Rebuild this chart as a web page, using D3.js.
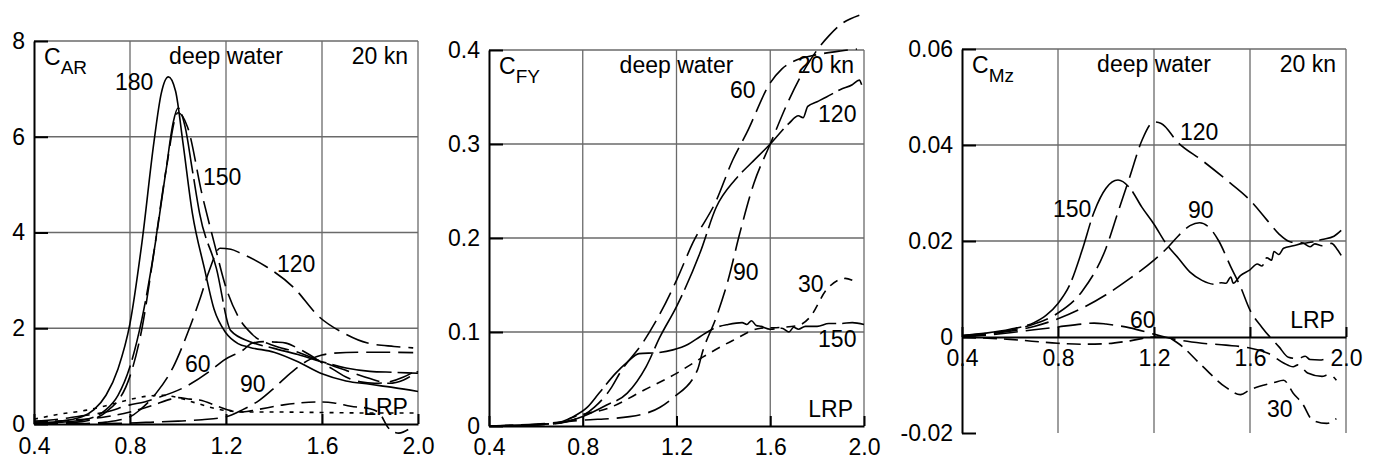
<!DOCTYPE html>
<html>
<meta charset="utf-8">
<style>
body {
  margin: 0;
  background: #fff;
  font-family: "Liberation Sans", Arial, Helvetica, sans-serif;
}
svg text {
  font-family: "Liberation Sans", Arial, Helvetica, sans-serif;
  font-size: 23px;
  fill: #000;
}
.grid line {
  stroke: #6a6a6a;
  stroke-width: 1.3;
}
.axis path, .axis line {
  stroke: #000;
  stroke-width: 2;
}
.curve {
  fill: none;
  stroke: #000;
  stroke-width: 1.6;
}
</style>
<body>
<script src="https://cdn.jsdelivr.net/npm/d3@7"></script>
<script>
// ---- data ----
var xTicks = [0.4, 0.8, 1.2, 1.6, 2.0];

// C_AR
var carTicks = [0, 2, 4, 6, 8];
var car180 = [[0.4,0.02],[0.5,0.05],[0.6,0.15],[0.65,0.3],[0.7,0.6],[0.75,1.15],[0.8,2.1],[0.85,3.8],[0.9,5.9],[0.93,6.9],[0.96,7.25],[0.99,6.95],[1.02,5.9],[1.06,4.4],[1.11,3.25],[1.15,2.4],[1.2,1.9],[1.25,1.68],[1.3,1.6],[1.4,1.5],[1.5,1.3],[1.6,1.05],[1.7,0.9],[1.8,0.83],[1.9,0.76],[2.0,0.68]];
var car180b = [[0.4,0.01],[0.6,0.08],[0.7,0.3],[0.75,0.6],[0.8,1.2],[0.85,2.2],[0.9,3.6],[0.95,5.3],[0.98,6.3],[1.0,6.6],[1.03,6.2],[1.06,5.3],[1.09,4.4],[1.16,3.25],[1.22,1.95],[1.3,1.72],[1.4,1.58],[1.5,1.45],[1.6,1.3],[1.7,1.17],[1.8,1.1],[1.9,1.08],[2.0,1.06]];
var car150 = [[0.4,0],[0.6,0.05],[0.7,0.25],[0.8,1.0],[0.85,2.0],[0.9,3.6],[0.95,5.3],[1.0,6.5],[1.04,6.2],[1.1,4.8],[1.15,3.8],[1.2,2.85],[1.25,2.25],[1.31,1.87],[1.41,1.62],[1.5,1.5],[1.6,1.3],[1.7,1.12],[1.8,0.95],[1.88,0.85],[1.94,0.92],[2.0,1.1]];
var car120 = [[0.4,0],[0.6,0.01],[0.7,0.04],[0.8,0.15],[0.84,0.29],[0.91,0.65],[0.98,1.19],[1.04,1.9],[1.09,2.59],[1.13,3.2],[1.175,3.67],[1.22,3.65],[1.26,3.57],[1.37,3.28],[1.48,2.86],[1.59,2.23],[1.69,1.9],[1.79,1.69],[1.9,1.62],[1.98,1.59]];
var car90 = [[0.4,0],[0.6,0.005],[0.8,0.02],[0.9,0.04],[1.0,0.06],[1.1,0.09],[1.2,0.15],[1.27,0.3],[1.34,0.5],[1.4,0.75],[1.45,0.98],[1.5,1.19],[1.55,1.35],[1.6,1.44],[1.65,1.48],[1.75,1.5],[1.85,1.5],[1.98,1.49]];
var car60 = [[0.4,0.06],[0.5,0.1],[0.6,0.17],[0.7,0.25],[0.8,0.4],[0.86,0.46],[0.91,0.54],[1.02,0.75],[1.15,1.17],[1.19,1.33],[1.27,1.54],[1.31,1.69],[1.36,1.72],[1.41,1.71],[1.45,1.69],[1.5,1.58],[1.55,1.44],[1.6,1.28],[1.65,1.13],[1.7,0.98],[1.76,0.88],[1.82,0.85],[1.88,0.88],[1.94,0.98],[1.98,1.08]];
var car30 = [[0.4,0.04],[0.55,0.08],[0.7,0.15],[0.8,0.25],[0.9,0.4],[0.97,0.52],[1.0,0.55],[1.05,0.52],[1.09,0.5],[1.17,0.36],[1.22,0.28],[1.27,0.25],[1.33,0.3],[1.44,0.4],[1.58,0.46],[1.65,0.44],[1.72,0.37],[1.8,0.32],[1.84,0.22],[1.88,-0.1],[1.92,-0.19],[1.97,-0.08]];
var carLRP = [[0.4,0.1],[0.5,0.2],[0.62,0.29],[0.7,0.38],[0.79,0.5],[0.87,0.58],[0.94,0.6],[1.0,0.55],[1.08,0.43],[1.15,0.33],[1.2,0.28],[1.3,0.25],[1.4,0.25],[1.6,0.24],[1.8,0.23],[2.0,0.23]];

// C_FY
var cfyTicks = [0, 0.1, 0.2, 0.3, 0.4];
var cfy150 = [[0.4,0],[0.6,0.0015],[0.7,0.004],[0.76,0.01],[0.82,0.02],[0.87,0.035],[0.94,0.056],[0.99,0.068],[1.04,0.077],[1.12,0.078],[1.185,0.081],[1.25,0.087],[1.3,0.095],[1.36,0.104],[1.42,0.108],[1.48,0.11],[1.5,0.108],[1.52,0.112],[1.54,0.107],[1.56,0.106],[1.6,0.103],[1.65,0.104],[1.68,0.1],[1.7,0.105],[1.72,0.103],[1.75,0.106],[1.8,0.106],[1.85,0.109],[1.9,0.109],[1.95,0.11],[2.0,0.108]];
var cfy30 = [[0.4,0],[0.7,0.003],[0.75,0.0085],[0.92,0.02],[1.06,0.038],[1.2,0.056],[1.31,0.073],[1.44,0.091],[1.56,0.104],[1.65,0.105],[1.72,0.107],[1.77,0.116],[1.84,0.145],[1.92,0.157],[1.95,0.155]];
var cfy60 = [[0.4,0],[0.6,0.001],[0.75,0.006],[0.85,0.02],[0.92,0.04],[0.96,0.057],[1.06,0.09],[1.12,0.115],[1.2,0.155],[1.27,0.195],[1.37,0.24],[1.44,0.283],[1.5,0.312],[1.6,0.365],[1.65,0.38],[1.7,0.388],[1.8,0.395],[1.9,0.399],[1.97,0.401]];
var cfy120 = [[0.4,0],[0.7,0.003],[0.8,0.01],[0.9,0.022],[0.99,0.035],[1.07,0.063],[1.13,0.095],[1.2,0.127],[1.3,0.184],[1.37,0.233],[1.45,0.262],[1.52,0.28],[1.6,0.30],[1.68,0.322],[1.72,0.33],[1.74,0.328],[1.76,0.34],[1.8,0.345],[1.84,0.35],[1.9,0.358],[1.95,0.363],[1.98,0.368],[1.99,0.363]];
var cfy90 = [[0.4,0],[0.6,0.002],[0.79,0.006],[1.0,0.01],[1.13,0.02],[1.185,0.03],[1.29,0.06],[1.31,0.078],[1.37,0.116],[1.42,0.155],[1.47,0.205],[1.53,0.258],[1.6,0.30],[1.68,0.347],[1.76,0.385],[1.8,0.4],[1.85,0.415],[1.9,0.427],[1.98,0.437]];

// C_Mz
var cmzTicks = [-0.02, 0, 0.02, 0.04, 0.06];
var cmz150 = [[0.4,0.0003],[0.5,0.0008],[0.6,0.0016],[0.7,0.003],[0.75,0.0045],[0.8,0.007],[0.85,0.011],[0.9,0.018],[0.95,0.026],[1.0,0.031],[1.05,0.0327],[1.1,0.031],[1.15,0.027],[1.2,0.0235],[1.25,0.0195],[1.3,0.0165],[1.35,0.0135],[1.4,0.0118],[1.45,0.011],[1.48,0.0113],[1.5,0.0112],[1.52,0.0125],[1.53,0.0112],[1.56,0.0128],[1.6,0.014],[1.63,0.0152],[1.65,0.0148],[1.67,0.0165],[1.69,0.016],[1.7,0.0178],[1.72,0.0172],[1.74,0.0185],[1.78,0.019],[1.82,0.0195],[1.86,0.0198],[1.9,0.0203],[1.95,0.021],[1.98,0.0222]];
var cmz120 = [[0.4,0.0003],[0.5,0.0007],[0.6,0.0014],[0.7,0.0027],[0.8,0.005],[0.9,0.0095],[1.0,0.0185],[1.05,0.026],[1.1,0.0335],[1.15,0.041],[1.2,0.0448],[1.23,0.0445],[1.3,0.0405],[1.4,0.0368],[1.5,0.0328],[1.6,0.0285],[1.67,0.0244],[1.72,0.0215],[1.77,0.0198],[1.82,0.0196],[1.85,0.0188],[1.87,0.0194],[1.9,0.019],[1.94,0.0195],[1.96,0.0185],[1.98,0.017]];
var cmz90 = [[0.4,0.0002],[0.5,0.0006],[0.6,0.0012],[0.7,0.0022],[0.8,0.0038],[0.9,0.006],[1.0,0.0088],[1.1,0.0122],[1.2,0.016],[1.26,0.0188],[1.3,0.021],[1.35,0.0232],[1.39,0.0238],[1.43,0.0228],[1.47,0.02],[1.52,0.0146],[1.56,0.0105],[1.6,0.0056],[1.65,0.002],[1.72,-0.002],[1.76,-0.0042],[1.8,-0.0045],[1.83,-0.004],[1.85,-0.0047],[1.89,-0.0048],[1.93,-0.0042]];
var cmz60 = [[0.4,0.0001],[0.5,0.0004],[0.6,0.0009],[0.7,0.0015],[0.8,0.0021],[0.9,0.0027],[0.95,0.0029],[1.0,0.0027],[1.1,0.0019],[1.2,0.0006],[1.3,-0.0006],[1.4,-0.0013],[1.5,-0.0017],[1.6,-0.0023],[1.68,-0.0035],[1.74,-0.0054],[1.78,-0.0062],[1.8,-0.0058],[1.84,-0.0075],[1.9,-0.0082],[1.93,-0.0078],[1.96,-0.009]];
var cmz30 = [[0.4,0],[0.6,-0.0005],[0.8,-0.0013],[0.9,-0.0015],[1.0,-0.0014],[1.1,-0.0008],[1.2,0],[1.25,0],[1.3,-0.0013],[1.4,-0.006],[1.5,-0.0105],[1.56,-0.012],[1.6,-0.011],[1.7,-0.0095],[1.74,-0.009],[1.78,-0.0117],[1.82,-0.014],[1.86,-0.0173],[1.92,-0.018],[1.96,-0.017]];

// ---- drawing ----
var dash = {solid: null, vlong: "60,6", long: "24,8", med: "14,7", short: "9,7", dot: "4,6"};

var panels = [
  {left: 34, right: 418, top: 41, bottom: 424, yDomain: [0, 8], yTicks: carTicks,
   yFmt: d3.format("d"), sub: "AR", xLabelY: 454,
   series: [
     {d: car180, s: "solid"}, {d: car180b, s: "vlong"}, {d: car150, s: "long"},
     {d: car120, s: "long"}, {d: car90, s: "long"}, {d: car60, s: "long"},
     {d: car30, s: "med"}, {d: carLRP, s: "dot"}],
   notes: [["180", 0.7375, 6.98, "start"], ["150", 1.104, 4.99, "start"], ["120", 1.4125, 3.17, "start"],
           ["60", 1.029, 1.086, "start"], ["90", 1.258, 0.67, "start"], ["LRP", 1.958, 0.19, "end"]]},
  {left: 489, right: 864, top: 50, bottom: 426, yDomain: [0, 0.4], yTicks: cfyTicks,
   yFmt: function(d) { return d === 0 ? "0" : d3.format(".1f")(d); }, sub: "FY", xLabelY: 455,
   series: [
     {d: cfy150, s: "vlong"}, {d: cfy30, s: "short"}, {d: cfy60, s: "long"},
     {d: cfy120, s: "vlong"}, {d: cfy90, s: "long"}],
   notes: [["60", 1.428, 0.349, "start"], ["120", 1.804, 0.323, "start"], ["90", 1.441, 0.155, "start"],
           ["30", 1.718, 0.1426, "start"], ["150", 1.804, 0.084, "start"], ["LRP", 1.953, 0.0096, "end"]]},
  {left: 962, right: 1346, top: 49, bottom: 433, yDomain: [-0.02, 0.06], yTicks: cmzTicks,
   yFmt: function(d) { return d === 0 ? "0" : d3.format(".2f")(d).replace("\u2212", "-"); }, sub: "Mz", xLabelY: 366,
   series: [
     {d: cmz150, s: "vlong"}, {d: cmz120, s: "long"}, {d: cmz90, s: "long"},
     {d: cmz60, s: "long"}, {d: cmz30, s: "med"}],
   notes: [["120", 1.308, 0.041, "start"], ["150", 0.779, 0.025, "start"], ["90", 1.342, 0.0248, "start"],
           ["60", 1.1, 0.0019, "start"], ["LRP", 1.954, 0.0019, "end"], ["30", 1.671, -0.0167, "start"]]}
];

var svg = d3.select("body").append("svg")
    .attr("width", 1376)
    .attr("height", 460);

panels.forEach(function(p) {
  var x = d3.scaleLinear().domain([0.4, 2.0]).range([p.left, p.right]);
  var y = d3.scaleLinear().domain(p.yDomain).range([p.bottom, p.top]);
  var g = svg.append("g");

  // grid
  var grid = g.append("g").attr("class", "grid");
  grid.selectAll(".v").data(xTicks.slice(1)).enter().append("line")
      .attr("x1", function(d) { return x(d); }).attr("x2", function(d) { return x(d); })
      .attr("y1", p.top).attr("y2", p.bottom);
  grid.selectAll(".h").data(p.yTicks.filter(function(d) { return d !== 0 && d !== p.yDomain[0]; })).enter().append("line")
      .attr("x1", p.left).attr("x2", p.right)
      .attr("y1", function(d) { return y(d); }).attr("y2", function(d) { return y(d); });

  // curves
  var line = d3.line()
      .x(function(d) { return x(d[0]); })
      .y(function(d) { return y(d[1]); })
      .curve(d3.curveMonotoneX);
  g.selectAll(".curve").data(p.series).enter().append("path")
      .attr("class", "curve")
      .attr("d", function(d) { return line(d.d); })
      .attr("stroke-dasharray", function(d) { return dash[d.s]; });

  // axes
  var yAxis = d3.axisLeft(y).tickValues(p.yTicks).tickFormat(p.yFmt)
      .tickSizeInner(-14).tickSizeOuter(0).tickPadding(9);
  g.append("g").attr("class", "axis")
      .attr("transform", "translate(" + p.left + ",0)")
      .call(yAxis);

  var xAxis = d3.axisBottom(x).tickValues(xTicks).tickFormat(d3.format(".1f"))
      .tickSizeInner(-10).tickSizeOuter(0).tickPadding(0);
  var xa = g.append("g").attr("class", "axis")
      .attr("transform", "translate(0," + y(0) + ")")
      .call(xAxis);
  xa.selectAll("text").attr("dy", null).attr("y", p.xLabelY - y(0));
  svg.selectAll("g.axis text").attr("font-size", null).attr("font-family", null);

  // headers
  var t = g.append("text").attr("x", p.left + 10).attr("y", p.top + 24);
  t.append("tspan").text("C");
  t.append("tspan").attr("dy", 9).style("font-size", "19px").text(p.sub);
  g.append("text").attr("x", x(1.2)).attr("y", p.top + 23)
      .attr("text-anchor", "middle").text("deep water");
  g.append("text").attr("x", p.right - 10).attr("y", p.top + 23)
      .attr("text-anchor", "end").text("20 kn");

  // curve labels
  g.selectAll(".note").data(p.notes).enter().append("text")
      .attr("x", function(d) { return x(d[1]); })
      .attr("y", function(d) { return y(d[2]); })
      .attr("text-anchor", function(d) { return d[3]; })
      .text(function(d) { return d[0]; });
});
</script>
</body>
</html>
